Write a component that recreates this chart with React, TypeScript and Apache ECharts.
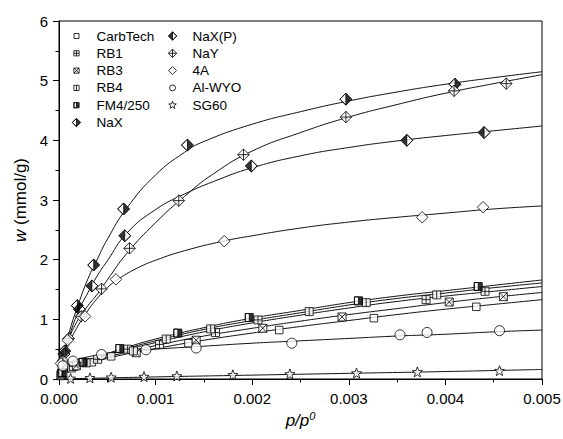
import React, { useEffect, useRef } from 'react';
import * as echarts from 'echarts';

const FONT = '"Liberation Sans", Arial, Helvetica, sans-serif';

// ---- axis ranges / ticks ----
const xRange = [0, 0.005];
const xStep = 0.001;
const yRange = [0, 6];
const yStep = 1;

// ---- legend columns ----
const legendCol1 = ['CarbTech', 'RB1', 'RB3', 'RB4', 'FM4/250', 'NaX'];
const legendCol2 = ['NaX(P)', 'NaY', '4A', 'Al-WYO', 'SG60'];

// ---- measured points [p/p0, w] ----
const carbTechPts = [[0.00002, 0.05], [0.00013, 0.18], [0.00034, 0.28], [0.00054, 0.38], [0.00134, 0.60], [0.00228, 0.82], [0.00326, 1.02], [0.00432, 1.21]];
const rb1Pts = [[0.00003, 0.09], [0.00015, 0.21], [0.00040, 0.33], [0.00071, 0.50], [0.00104, 0.58], [0.00162, 0.78], [0.00206, 0.99], [0.00380, 1.33], [0.00441, 1.47]];
const rb3Pts = [[0.00002, 0.07], [0.00018, 0.22], [0.00080, 0.44], [0.00142, 0.65], [0.00211, 0.85], [0.00293, 1.04], [0.00404, 1.29], [0.00460, 1.38]];
const rb4Pts = [[0.00004, 0.11], [0.00028, 0.27], [0.00077, 0.47], [0.00111, 0.67], [0.00157, 0.84], [0.00259, 1.13], [0.00318, 1.28], [0.00391, 1.41]];
const fm4Pts = [[0.00003, 0.10], [0.00025, 0.28], [0.00063, 0.51], [0.00123, 0.77], [0.00197, 1.03], [0.00310, 1.31], [0.00434, 1.55]];
const naxPts = [[0.00006, 0.47], [0.00019, 1.23], [0.00036, 1.91], [0.00067, 2.85], [0.00133, 3.92], [0.00297, 4.69], [0.00410, 4.94]];
const naxpPts = [[0.00005, 0.42], [0.00021, 1.17], [0.00034, 1.56], [0.00068, 2.40], [0.00199, 3.57], [0.00360, 4.00], [0.00440, 4.13]];
const nayPts = [[0.00004, 0.30], [0.00010, 0.68], [0.00023, 1.05], [0.00044, 1.51], [0.00073, 2.19], [0.00124, 2.99], [0.00191, 3.76], [0.00297, 4.39], [0.00409, 4.83], [0.00463, 4.95]];
const a4Pts = [[0.00002, 0.26], [0.00009, 0.65], [0.00027, 1.05], [0.00059, 1.67], [0.00171, 2.31], [0.00376, 2.71], [0.00439, 2.88]];
const alWyoPts = [[0.00004, 0.22], [0.000145, 0.30], [0.00044, 0.41], [0.00090, 0.49], [0.00142, 0.52], [0.00241, 0.60], [0.00353, 0.74], [0.00381, 0.78], [0.00456, 0.81]];
const sg60Pts = [[0.00012, 0.01], [0.00032, 0.02], [0.00054, 0.03], [0.00088, 0.04], [0.00122, 0.05], [0.00180, 0.07], [0.00239, 0.085], [0.00308, 0.10], [0.00371, 0.12], [0.00456, 0.14]];

// ---- fitted curves [p/p0, w] ----
const carbTechFit = [[0, 0], [0.00005, 0.07], [0.0001, 0.12], [0.0002, 0.19], [0.0004, 0.30], [0.0007, 0.42], [0.001, 0.51], [0.0015, 0.65], [0.002, 0.77], [0.0025, 0.88], [0.003, 0.98], [0.0035, 1.08], [0.004, 1.17], [0.0045, 1.25], [0.005, 1.33]];
const rb1Fit = [[0, 0], [0.00005, 0.09], [0.0001, 0.15], [0.0002, 0.23], [0.0004, 0.35], [0.0007, 0.49], [0.001, 0.61], [0.0015, 0.79], [0.002, 0.94], [0.0025, 1.07], [0.003, 1.19], [0.0035, 1.30], [0.004, 1.39], [0.0045, 1.47], [0.005, 1.55]];
const rb3Fit = [[0, 0], [0.00005, 0.08], [0.0001, 0.14], [0.0002, 0.21], [0.0004, 0.32], [0.0007, 0.45], [0.001, 0.56], [0.0015, 0.72], [0.002, 0.85], [0.0025, 0.97], [0.003, 1.08], [0.0035, 1.18], [0.004, 1.28], [0.0045, 1.37], [0.005, 1.45]];
const rb4Fit = [[0, 0], [0.00005, 0.10], [0.0001, 0.16], [0.0002, 0.24], [0.0004, 0.36], [0.0007, 0.51], [0.001, 0.64], [0.0015, 0.83], [0.002, 0.98], [0.0025, 1.11], [0.003, 1.24], [0.0035, 1.35], [0.004, 1.44], [0.0045, 1.53], [0.005, 1.61]];
const fm4Fit = [[0, 0], [0.00005, 0.10], [0.0001, 0.17], [0.0002, 0.25], [0.0004, 0.37], [0.0007, 0.53], [0.001, 0.67], [0.0015, 0.86], [0.002, 1.02], [0.0025, 1.15], [0.003, 1.28], [0.0035, 1.39], [0.004, 1.48], [0.0045, 1.57], [0.005, 1.66]];
const naxFit = [[0, 0], [0.00005, 0.40], [0.0001, 0.75], [0.0002, 1.25], [0.0003, 1.68], [0.0004, 2.02], [0.0005, 2.34], [0.0007, 2.86], [0.001, 3.42], [0.0013, 3.80], [0.0015, 3.98], [0.002, 4.27], [0.0025, 4.48], [0.003, 4.66], [0.0035, 4.81], [0.004, 4.94], [0.0045, 5.05], [0.005, 5.15]];
const naxpFit = [[0, 0], [0.00005, 0.38], [0.0001, 0.68], [0.0002, 1.13], [0.0003, 1.45], [0.0004, 1.74], [0.0005, 1.98], [0.0007, 2.44], [0.001, 2.84], [0.0013, 3.10], [0.0016, 3.31], [0.002, 3.54], [0.0025, 3.74], [0.003, 3.88], [0.0035, 3.99], [0.004, 4.08], [0.0045, 4.16], [0.005, 4.24]];
const nayFit = [[0, 0], [0.00005, 0.38], [0.0001, 0.66], [0.0002, 1.00], [0.0003, 1.23], [0.0004, 1.43], [0.0005, 1.66], [0.0007, 2.10], [0.001, 2.62], [0.0013, 3.06], [0.0016, 3.44], [0.002, 3.82], [0.0025, 4.13], [0.003, 4.39], [0.0035, 4.60], [0.004, 4.79], [0.0045, 4.95], [0.005, 5.10]];
const a4Fit = [[0, 0], [0.00005, 0.33], [0.0001, 0.58], [0.0002, 0.90], [0.0003, 1.15], [0.0004, 1.36], [0.0005, 1.53], [0.0006, 1.66], [0.0008, 1.85], [0.001, 1.99], [0.0013, 2.15], [0.0017, 2.31], [0.002, 2.40], [0.0025, 2.53], [0.003, 2.63], [0.0035, 2.71], [0.004, 2.78], [0.0045, 2.85], [0.005, 2.90]];
const alWyoFit = [[0, 0], [0.00002, 0.12], [0.00005, 0.20], [0.0001, 0.27], [0.0002, 0.33], [0.0004, 0.40], [0.0007, 0.46], [0.001, 0.50], [0.0015, 0.55], [0.002, 0.60], [0.0025, 0.64], [0.003, 0.68], [0.0035, 0.72], [0.004, 0.75], [0.0045, 0.79], [0.005, 0.82]];
const sg60Fit = [[0, 0], [0.001, 0.035], [0.002, 0.065], [0.003, 0.095], [0.004, 0.125], [0.005, 0.16]];

// ---- marker shapes ----
const SQ = 'M0 0 L10 0 L10 10 L0 10 Z';
const DM = 'M5 0 L10 5 L5 10 L0 5 Z';
const STAR = 'M5 0 L6.23 3.3 L9.76 3.45 L7 5.65 L7.94 9.05 L5 7.1 L2.06 9.05 L3 5.65 L0.24 3.45 L3.77 3.3 Z';
const shapes: Record<string, string> = {
  'CarbTech': SQ,
  'RB1': SQ + ' M5 0 L5 10 M0 5 L10 5',
  'RB3': SQ + ' M0 0 L10 10 M10 0 L0 10',
  'RB4': SQ + ' M5 0 L5 10',
  'FM4/250': 'M5 0 L10 0 L10 10 L5 10 Z M5 0 L0 0 L0 10 L5 10 L0 10 L0 0 Z',
  'NaX': 'M5 0 L10 5 L5 10 Z M5 0 L0 5 L5 10 L0 5 Z',
  'NaX(P)': 'M5 0 L0 5 L5 10 Z M5 0 L10 5 L5 10 L10 5 Z',
  'NaY': DM + ' M5 0 L5 10 M0 5 L10 5',
  '4A': DM,
  'SG60': STAR,
};

function padShape(d: string, s: number, box: number) {
  // scale a 0..10 polygon shape by s/10 and centre it in a box (legend icon size)
  const off = (box - s) / 2;
  const k = s / 10;
  const out = d.replace(/(-?\d*\.?\d+)\s+(-?\d*\.?\d+)/g, (_m, a, b) =>
    `${(parseFloat(a) * k + off).toFixed(2)} ${(parseFloat(b) * k + off).toFixed(2)}`);
  return 'path://' + out + ` M0 0 M${box} ${box}`;
}
function circleIcon(s: number, box: number) {
  const r = s / 2;
  const c = box / 2;
  return `path://M${c - r} ${c} A${r} ${r} 0 1 1 ${c + r} ${c} A${r} ${r} 0 1 1 ${c - r} ${c} Z M0 0 M${box} ${box}`;
}

type Mat = { name: string; pts: number[][]; fit: number[][]; fill: string; size: number[]; legendSize: number; bg?: string };
const mats: Mat[] = [
  { name: 'CarbTech', pts: carbTechPts, fit: carbTechFit, fill: '#fff', size: [7.5, 7.5], legendSize: 5 },
  { name: 'RB1', pts: rb1Pts, fit: rb1Fit, fill: '#fff', size: [8, 8], legendSize: 5.2 },
  { name: 'RB3', pts: rb3Pts, fit: rb3Fit, fill: '#fff', size: [8, 8], legendSize: 5.2 },
  { name: 'RB4', pts: rb4Pts, fit: rb4Fit, fill: '#fff', size: [8, 8], legendSize: 5.2 },
  { name: 'FM4/250', pts: fm4Pts, fit: fm4Fit, fill: '#000', size: [8, 8], legendSize: 5.2, bg: SQ },
  { name: 'NaX', pts: naxPts, fit: naxFit, fill: '#000', size: [12, 12], legendSize: 8.4, bg: DM },
  { name: 'NaX(P)', pts: naxpPts, fit: naxpFit, fill: '#000', size: [12, 12], legendSize: 8.4, bg: DM },
  { name: 'NaY', pts: nayPts, fit: nayFit, fill: '#fff', size: [11.5, 11.5], legendSize: 8.4 },
  { name: '4A', pts: a4Pts, fit: a4Fit, fill: '#fff', size: [11.5, 11.5], legendSize: 8 },
  { name: 'Al-WYO', pts: alWyoPts, fit: alWyoFit, fill: '#fff', size: [10, 10], legendSize: 6 },
  { name: 'SG60', pts: sg60Pts, fit: sg60Fit, fill: '#fff', size: [10, 10], legendSize: 8 },
];

function symbolOf(name: string) {
  return name === 'Al-WYO' ? 'circle' : 'path://' + shapes[name];
}
function legendIconOf(m: Mat) {
  return m.name === 'Al-WYO' ? circleIcon(m.legendSize, 10) : padShape(shapes[m.name], m.legendSize, 10);
}

export default function App() {
  const ref = useRef<HTMLDivElement>(null);
  useEffect(() => {
    if (!ref.current) return;
    const chart = echarts.init(ref.current, null, { renderer: 'svg' });
    const series: any[] = [];
    mats.forEach((m) => {
      series.push({
        name: m.name + ' fit', type: 'line', data: m.fit, smooth: 0.5,
        symbol: 'none', silent: true, z: 2, lineStyle: { color: '#111', width: 1 },
      });
    });
    mats.forEach((m) => {
      if (m.bg) {
        series.push({
          name: m.name + ' bg', type: 'scatter', data: m.pts, symbol: 'path://' + m.bg, symbolSize: m.size,
          silent: true, z: 3, itemStyle: { color: '#fff', borderWidth: 0 },
        });
      }
      series.push({
        name: m.name, type: 'scatter', data: m.pts, symbol: symbolOf(m.name), symbolSize: m.size,
        z: 4, itemStyle: { color: m.fill, borderColor: '#000', borderWidth: 1 },
        emphasis: { disabled: true },
      });
    });
    const iconMap: Record<string, string> = {};
    mats.forEach((m) => { iconMap[m.name] = legendIconOf(m); });
    const legendBase = {
      orient: 'vertical', top: 29, itemWidth: 30, itemHeight: 10, itemGap: 3.3, padding: 0,
      selectedMode: false, symbolKeepAspect: true,
      itemStyle: { borderWidth: 1 },
      textStyle: { fontSize: 13.5, fontFamily: FONT, color: '#000' },
    };
    const axisCommon = {
      axisLine: { show: true, onZero: false, lineStyle: { color: '#000', width: 1 } },
      axisTick: { show: true, inside: false, length: 6, lineStyle: { color: '#000', width: 1 } },
      minorTick: { show: true, splitNumber: 2, length: 3.5, lineStyle: { color: '#000', width: 1 } },
      splitLine: { show: false },
      minorSplitLine: { show: false },
    };
    chart.setOption({
      animation: false,
      backgroundColor: '#fff',
      grid: { left: 59, right: 21, top: 21, bottom: 60, show: true, borderColor: '#000', borderWidth: 1, backgroundColor: 'transparent', outerBoundsMode: 'none' },
      legend: [
        { ...legendBase, left: 71, data: legendCol1.map((n) => ({ name: n, icon: iconMap[n] })) },
        { ...legendBase, left: 167, data: legendCol2.map((n) => ({ name: n, icon: iconMap[n] })) },
      ],
      xAxis: {
        type: 'value', min: xRange[0], max: xRange[1], interval: xStep,
        ...axisCommon,
        axisLabel: { fontSize: 15, fontFamily: FONT, color: '#000', margin: 12, formatter: (v: number) => v.toFixed(3) },
        name: '{i|p/p}{s|0}', nameLocation: 'middle', nameGap: 27,
        nameTextStyle: {
          fontSize: 17, fontFamily: FONT, color: '#000',
          rich: {
            i: { fontSize: 17, fontStyle: 'italic', fontFamily: FONT, color: '#000' },
            s: { fontSize: 11, fontStyle: 'italic', fontFamily: FONT, color: '#000', padding: [0, 0, 9, 0] },
          },
        },
      },
      yAxis: {
        type: 'value', min: yRange[0], max: yRange[1], interval: yStep,
        ...axisCommon,
        axisLabel: { fontSize: 15, fontFamily: FONT, color: '#000', margin: 11, formatter: (v: number) => String(Math.round(v)) },
        name: '{i|w} (mmol/g)', nameLocation: 'middle', nameGap: 21,
        nameTextStyle: {
          fontSize: 17, fontFamily: FONT, color: '#000',
          rich: { i: { fontSize: 17, fontStyle: 'italic', fontFamily: FONT, color: '#000' } },
        },
      },
      series,
    });
    return () => chart.dispose();
  }, []);
  return <div ref={ref} style={{ position: 'fixed', left: 0, top: 0, width: 563, height: 439 }} />;
}
